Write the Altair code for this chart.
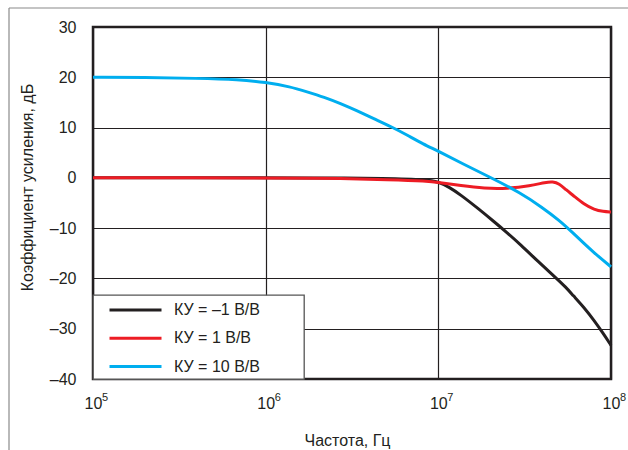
import altair as alt
import pandas as pd

# ---- data ----
series_names = ["КУ = –1 В/В", "КУ = 1 В/В", "КУ = 10 В/В"]
series_colors = ["#231f20", "#ed1c24", "#00aeef"]

freq_inv = [1e5, 1e6, 2e6, 5e6, 8.7e6, 1e7, 1.15e7, 1.35e7, 1.7e7, 2.1e7, 2.5e7, 3e7,
            3.8e7, 4.7e7, 5.5e7, 6e7, 7e7, 8e7, 9e7, 1e8]
gain_inv = [0.0, 0.0, 0.0, -0.12, -0.35, -0.8, -1.8, -3.4, -6.1, -8.7, -10.9, -13.3,
            -16.7, -19.6, -21.8, -23.3, -25.8, -28.4, -30.9, -33.3]

freq_one = [1e5, 1e6, 2e6, 3e6, 5e6, 8.7e6, 1e7, 1.35e7, 1.85e7, 2.5e7, 3.4e7, 4.2e7,
            4.6e7, 5e7, 5.5e7, 6e7, 7e7, 8e7, 9e7, 1e8]
gain_one = [0.0, 0.0, -0.05, -0.15, -0.35, -0.65, -0.9, -1.55, -2.1, -2.15, -1.6, -0.85,
            -0.75, -1.1, -2.4, -3.4, -5.3, -6.3, -6.7, -6.8]

freq_ten = [1e5, 2e5, 4e5, 7e5, 1e6, 1.4e6, 1.7e6, 2.2e6, 2.7e6, 3.4e6, 4.2e6, 5.4e6,
            6.6e6, 8.2e6, 1e7, 1.4e7, 2e7, 3e7, 4e7, 5e7, 6e7, 7e7, 8e7, 9e7, 1e8]
gain_ten = [20.0, 19.95, 19.8, 19.55, 19.0, 18.1, 17.2, 16.0, 14.8, 13.3, 11.8, 10.1,
            8.5, 6.7, 5.3, 2.7, 0.1, -3.0, -5.9, -8.4, -10.9, -13.1, -14.9, -16.4, -17.7]

x_ticks = [1e5, 1e6, 1e7, 1e8]
x_tick_base = ["10", "10", "10", "10"]
x_tick_exp = ["5", "6", "7", "8"]
y_ticks = [-40, -30, -20, -10, 0, 10, 20, 30]
y_tick_labels = ["–40", "–30", "–20", "–10", "0", "10", "20", "30"]

x_title = "Частота, Гц"
y_title = "Коэффициент усиления, дБ"

frames = []
for name, fs, gs in [(series_names[0], freq_inv, gain_inv),
                     (series_names[1], freq_one, gain_one),
                     (series_names[2], freq_ten, gain_ten)]:
    frames.append(pd.DataFrame({"f": fs, "g": gs, "s": name, "o": series_names.index(name)}))
df = pd.concat(frames, ignore_index=True)
exp_df = pd.DataFrame({"f": x_ticks, "e": x_tick_exp})

def label_expr(values, labels):
    expr = "''"
    for v, l in zip(values, labels):
        expr = f"datum.value == {v} ? '{l}' : ({expr})"
    return expr

FONT = "Liberation Sans"
TXT = "#231f20"
PAD = "\u00a0" * 9 + "\u200b"

x_scale = alt.Scale(type="log", domain=[1e5, 1e8], nice=False)

lines = alt.Chart(df).mark_line(strokeWidth=3, interpolate="basis").encode(
    x=alt.X("f:Q", scale=x_scale,
            axis=alt.Axis(values=x_ticks, labelExpr=label_expr(x_ticks, x_tick_base),
                          title=x_title, grid=True, ticks=False, domain=False,
                          labelPadding=16, labelFontSize=16, labelFont=FONT, labelColor=TXT,
                          labelFlush=False, labelOverlap=False,
                          titleFontSize=16, titleFont=FONT, titleFontWeight="normal",
                          titleColor=TXT, titleX=254, titleY=61, titleBaseline="middle",
                          titleAnchor="start", titleAlign="center")),
    y=alt.Y("g:Q",
            scale=alt.Scale(domain=[-40, 30], nice=False),
            axis=alt.Axis(values=y_ticks, labelExpr=label_expr(y_ticks, y_tick_labels),
                          title=y_title, grid=True, ticks=False, domain=False,
                          labelPadding=17, labelFontSize=16, labelFont=FONT, labelColor=TXT,
                          labelFlush=False, labelOverlap=False, labelBaseline="middle",
                          titleFontSize=16, titleFont=FONT, titleFontWeight="normal",
                          titleColor=TXT, titleX=-66, titleY=160, titleAngle=270,
                          titleBaseline="middle", titleAlign="center")),
    color=alt.Color("s:N",
                    scale=alt.Scale(domain=series_names, range=series_colors),
                    legend=alt.Legend(title=None, orient="bottom-left", offset=0,
                                      fillColor="white", strokeColor="#555555",
                                      padding=3.5, rowPadding=8.3,
                                      symbolType="M-2.6,0H2.6", symbolSize=400,
                                      symbolStrokeWidth=3, symbolOffset=27.5,
                                      labelOffset=27, labelFontSize=16, labelFont=FONT,
                                      labelColor=TXT, labelLimit=400,
                                      labelExpr=f"datum.label + '{PAD}'")),
    order="o:Q",
    detail="s:N",
)

exponents = alt.Chart(exp_df).mark_text(
    align="left", baseline="middle", dx=9, fontSize=11, font=FONT, color=TXT
).encode(
    x=alt.X("f:Q", scale=x_scale),
    y=alt.value(371),
    text="e:N",
)

frame_df = pd.DataFrame({"k": [0]})
frame_top = alt.Chart(frame_df).mark_rule(color="#8a8a8a", strokeWidth=1.2).encode(
    x=alt.value(-84), x2=alt.value(540), y=alt.value(-19))
frame_left = alt.Chart(frame_df).mark_rule(color="#8a8a8a", strokeWidth=1.2).encode(
    x=alt.value(-84), y=alt.value(-19), y2=alt.value(430))

chart = alt.layer(frame_top, frame_left, lines, exponents).properties(
    width=518, height=352,
    autosize=alt.AutoSizeParams(type="none"),
    padding={"left": 93, "top": 27, "right": 17, "bottom": 71},
    background="white",
).configure_view(
    stroke="#231f20", strokeWidth=2.5
).configure_axis(
    gridColor="#231f20", gridWidth=1.2, gridOpacity=1
).configure_legend(
    strokeWidth=1.3
)

chart.save("out.html", embed_options={"renderer": "svg", "actions": False})
